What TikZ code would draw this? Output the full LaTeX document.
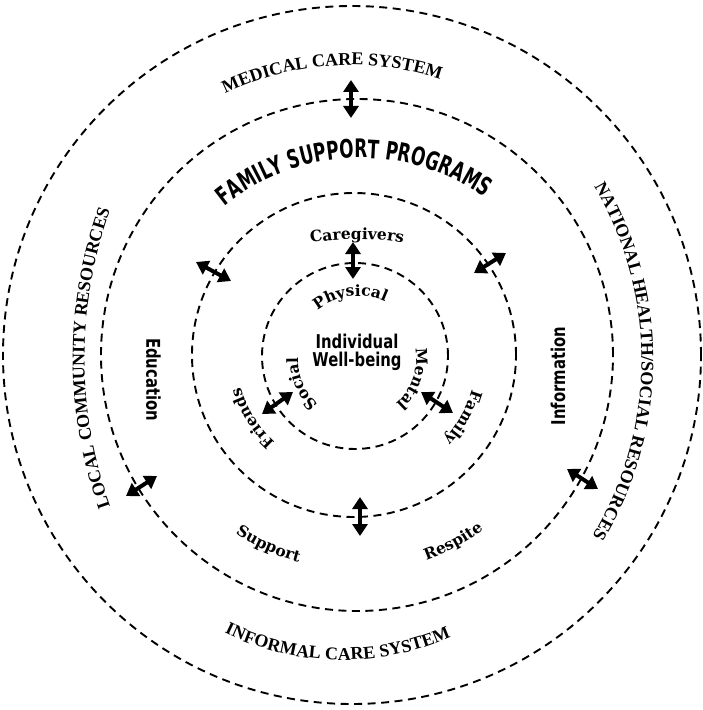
\documentclass[tikz,border=0pt]{standalone}
\usepackage{fontspec}
\newfontfamily\capfont{Liberation Serif}
\newfontfamily\lblfont{DejaVu Serif}
\newfontfamily\condfont{DejaVu Sans}[FakeStretch=0.78]
\newfontfamily\fspfont{DejaVu Sans}[FakeStretch=0.66]
\usetikzlibrary{arrows.meta,decorations.text}
\tikzset{
  ring/.style={line width=1.9pt, dash pattern=on 8pt off 5.5pt},
  biarrow/.style={line width=4pt, {Triangle[length=12pt,width=15pt]}-{Triangle[length=12pt,width=15pt]}},
  curvetext/.style={decorate, decoration={text along path, text align=center, text={#1}}},
  condtext/.style={font=\condfont\bfseries\fontsize{19}{18}\selectfont, inner sep=0pt}
}
\begin{document}
\begin{tikzpicture}[x=1pt,y=1pt]
\useasboundingbox (-353,-355) rectangle (349,355);
% rings
\draw[ring] (-1,0) circle[radius=349];
\draw[ring] (4,0) circle[radius=256];
\draw[ring] (1,0) circle[radius=162];
\draw[ring] (2,-1) circle[radius=93];
% curved labels
\path[curvetext={|\capfont\bfseries\fontsize{18}{18}\selectfont|MEDICAL CARE SYSTEM}]
  ([shift={(-3,6)}]123.75:284) arc[start angle=123.75,end angle=63.75,radius=284];
\path[curvetext={|\fspfont\bfseries\fontsize{25.5}{25.5}\selectfont|FAMILY SUPPORT PROGRAMS}]
  ([shift={(7.5,-19)}]140:216) arc[start angle=140,end angle=44,radius=216];
\path[curvetext={|\lblfont\bfseries\fontsize{15.5}{15.5}\selectfont|Caregivers}]
  ([shift={(4,-154)}]105:270) arc[start angle=105,end angle=75,radius=270];
\path[curvetext={|\lblfont\bfseries\fontsize{15.5}{15.5}\selectfont|Physical}]
  ([shift={(5,-5)}]152:64) arc[start angle=152,end angle=42,radius=64];
\path[curvetext={|\lblfont\bfseries\fontsize{15.5}{15.5}\selectfont|Social}]
  ([shift={(5,-5)}]258:60) arc[start angle=258,end angle=148,radius=60];
\path[curvetext={|\lblfont\bfseries\fontsize{15.5}{15.5}\selectfont|Mental}]
  ([shift={(5,-5)}]36:58) arc[start angle=36,end angle=-74,radius=58];
\path[curvetext={|\lblfont\bfseries\fontsize{15.5}{15.5}\selectfont|Friends}]
  (242:117) arc[start angle=242,end angle=182,radius=117];
\path[curvetext={|\lblfont\bfseries\fontsize{15.5}{15.5}\selectfont|Family}]
  (0.4:124) arc[start angle=0.4,end angle=-59.6,radius=124];
\path[curvetext={|\lblfont\bfseries\fontsize{15.5}{15.5}\selectfont|Support}]
  (226:214) arc[start angle=226,end angle=266,radius=214];
\path[curvetext={|\lblfont\bfseries\fontsize{15.5}{15.5}\selectfont|Respite}]
  (278.2:218) arc[start angle=278.2,end angle=318.2,radius=218];
\path[curvetext={|\capfont\bfseries\fontsize{18}{18}\selectfont|INFORMAL CARE SYSTEM}]
  ([shift={(-11,-37)}]234:268) arc[start angle=234,end angle=304,radius=268];
\path[curvetext={|\capfont\bfseries\fontsize{18}{18}\selectfont|LOCAL COMMUNITY RESOURCES}]
  ([shift={(170,-3)}]205:438.5) arc[start angle=205,end angle=155,radius=438.5];
\path[curvetext={|\capfont\bfseries\fontsize{18}{18}\selectfont|NATIONAL HEALTH/SOCIAL RESOURCES}]
  ([shift={(-52,-5)}]39.75:340.5) arc[start angle=39.75,end angle=-40.25,radius=340.5];
% straight labels
\node[condtext, rotate=-90] (edu) at (-199.5,-24.5) {Education};
\node[condtext, rotate=90] (info) at (205,-21) {Information};
\node[condtext, align=center] (self) at (4,3) {Individual\\Well-being};
% arrows
\coordinate (a1s) at (-2,237);   \coordinate (a1e) at (-2,275);
\coordinate (a2s) at (0,76);     \coordinate (a2e) at (0,113);
\coordinate (a3s) at (7,-142);   \coordinate (a3e) at (7,-181);
\coordinate (a4s) at (-157,93);  \coordinate (a4e) at (-122,74);
\coordinate (a5s) at (153,102);  \coordinate (a5e) at (121,82);
\coordinate (a6s) at (-91,-59);  \coordinate (a6e) at (-60,-37);
\coordinate (a7s) at (68,-37);   \coordinate (a7e) at (100,-58);
\coordinate (a8s) at (-227,-141);\coordinate (a8e) at (-196,-121);
\coordinate (a9s) at (214,-114); \coordinate (a9e) at (245,-134);
\foreach \i in {1,...,9} \draw[biarrow] (a\i s) -- (a\i e);
\end{tikzpicture}
\end{document}
